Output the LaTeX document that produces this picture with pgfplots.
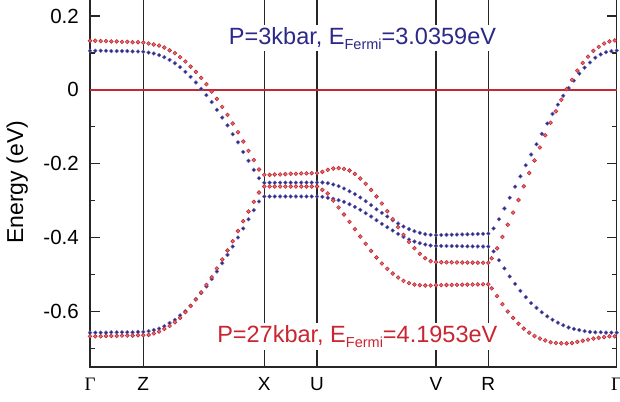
\documentclass[border=0pt]{standalone}
\usepackage{fontspec}
\setmainfont{Liberation Sans}
\newfontfamily\greekserif{Liberation Serif}
\usepackage{pgfplots}
\pgfplotsset{compat=1.18}
\usepackage{pgfplotstable}
\definecolor{bandblue}{RGB}{44,40,138}
\definecolor{bandred}{RGB}{200,38,48}
\definecolor{fermired}{RGB}{196,40,50}

% x: position along the k-path (Gamma-Z-X-U-V-R-Gamma), top/bot: two bands in eV
\pgfplotstableread{
x top bot
0.0 0.106 -0.657
5.3 0.106 -0.657
10.7 0.106 -0.657
16.0 0.106 -0.657
21.3 0.105 -0.656
26.7 0.105 -0.656
32.0 0.105 -0.656
37.3 0.105 -0.656
42.6 0.104 -0.656
48.0 0.104 -0.655
53.3 0.103 -0.655
58.6 0.101 -0.653
63.8 0.0985 -0.650
69.1 0.094 -0.646
74.3 0.0885 -0.6395
79.6 0.081 -0.631
84.9 0.072 -0.6225
90.1 0.0614 -0.6105
95.4 0.0487 -0.599
100.6 0.035 -0.5846
105.9 0.020 -0.567
111.2 0.0027 -0.550
116.4 -0.0143 -0.532
121.7 -0.033 -0.512
126.9 -0.054 -0.4915
132.2 -0.075 -0.469
137.5 -0.096 -0.4466
142.7 -0.120 -0.424
148.0 -0.142 -0.3995
153.2 -0.168 -0.375
158.5 -0.192 -0.350
163.8 -0.2165 -0.3256
169.0 -0.239 -0.302
174.3 -0.2515 -0.2885
179.6 -0.2513 -0.2885
184.8 -0.2512 -0.2885
190.1 -0.2511 -0.2885
195.4 -0.2510 -0.2885
200.7 -0.2510 -0.2885
205.9 -0.2510 -0.2885
211.2 -0.2509 -0.2885
216.5 -0.2508 -0.2885
221.7 -0.2508 -0.2885
227.0 -0.2507 -0.2886
232.4 -0.2507 -0.2895
237.8 -0.2525 -0.2922
243.2 -0.2561 -0.2949
248.6 -0.2606 -0.2985
254.0 -0.2669 -0.3030
259.5 -0.2742 -0.3093
264.9 -0.2823 -0.3166
270.3 -0.2913 -0.3247
275.7 -0.3012 -0.3337
281.1 -0.3120 -0.3427
286.5 -0.3229 -0.3526
291.9 -0.3328 -0.3626
297.3 -0.3427 -0.3716
302.7 -0.3526 -0.3806
308.1 -0.3617 -0.3896
313.5 -0.3698 -0.3978
319.0 -0.3770 -0.4050
324.4 -0.3824 -0.4104
329.8 -0.3869 -0.4149
335.2 -0.3905 -0.4185
340.6 -0.3923 -0.4212
346.0 -0.3932 -0.4221
351.2 -0.3928 -0.4223
356.5 -0.3924 -0.4225
361.7 -0.3920 -0.4227
366.9 -0.3916 -0.4229
372.2 -0.3912 -0.4231
377.4 -0.3908 -0.4233
382.6 -0.3904 -0.4235
387.8 -0.3900 -0.4237
393.1 -0.3895 -0.4239
398.3 -0.3890 -0.4240
403.6 -0.375 -0.437
409.0 -0.350 -0.461
414.4 -0.321 -0.483
419.7 -0.292 -0.505
425.1 -0.262 -0.525
430.4 -0.234 -0.544
435.8 -0.204 -0.561
441.1 -0.175 -0.577
446.5 -0.147 -0.590
451.8 -0.119 -0.602
457.2 -0.091 -0.613
462.5 -0.065 -0.622
467.9 -0.040 -0.630
473.2 -0.016 -0.637
478.6 0.005 -0.643
483.9 0.025 -0.647
489.3 0.044 -0.650
494.6 0.060 -0.653
500.0 0.074 -0.655
505.3 0.087 -0.656
510.7 0.096 -0.656
516.0 0.102 -0.657
521.4 0.105 -0.657
526.7 0.1065 -0.657
}\bluebands

\pgfplotstableread{
x top bot
0.0 0.133 -0.667
5.3 0.133 -0.667
10.7 0.132 -0.667
16.0 0.132 -0.666
21.3 0.131 -0.666
26.7 0.131 -0.666
32.0 0.130 -0.665
37.3 0.130 -0.665
42.6 0.129 -0.665
48.0 0.129 -0.664
53.3 0.128 -0.664
58.6 0.1255 -0.663
63.8 0.1228 -0.659
69.1 0.120 -0.654
74.3 0.1147 -0.647
79.6 0.107 -0.639
84.9 0.0993 -0.629
90.1 0.0885 -0.617
95.4 0.0768 -0.6016
100.6 0.063 -0.5846
105.9 0.0487 -0.567
111.2 0.0325 -0.548
116.4 0.0154 -0.528
121.7 -0.0045 -0.507
126.9 -0.0244 -0.4834
132.2 -0.046 -0.459
137.5 -0.0677 -0.4347
142.7 -0.091 -0.4095
148.0 -0.1145 -0.382
153.2 -0.1397 -0.3554
158.5 -0.165 -0.329
163.8 -0.190 -0.303
169.0 -0.2155 -0.2777
174.3 -0.230 -0.2615
179.6 -0.2300 -0.2615
184.8 -0.2290 -0.2615
190.1 -0.2290 -0.2615
195.4 -0.2280 -0.2615
200.7 -0.2270 -0.2615
205.9 -0.2270 -0.2615
211.2 -0.2260 -0.2615
216.5 -0.2260 -0.2615
221.7 -0.2255 -0.2615
227.0 -0.2254 -0.2615
232.4 -0.2218 -0.2706
237.8 -0.2164 -0.2805
243.2 -0.2128 -0.2994
248.6 -0.2119 -0.3184
254.0 -0.2137 -0.3373
259.5 -0.2182 -0.3572
264.9 -0.2273 -0.3770
270.3 -0.2399 -0.3968
275.7 -0.2543 -0.4167
281.1 -0.2706 -0.4356
286.5 -0.2886 -0.4537
291.9 -0.3075 -0.4699
297.3 -0.3283 -0.4844
302.7 -0.3499 -0.4970
308.1 -0.3716 -0.5078
313.5 -0.3924 -0.5168
319.0 -0.4114 -0.5231
324.4 -0.4285 -0.5268
329.8 -0.4438 -0.5286
335.2 -0.4555 -0.5295
340.6 -0.4636 -0.5295
346.0 -0.4663 -0.5286
351.2 -0.4665 -0.5284
356.5 -0.4667 -0.5281
361.7 -0.4668 -0.5279
366.9 -0.4670 -0.5276
372.2 -0.4672 -0.5273
377.4 -0.4673 -0.5270
382.6 -0.4675 -0.5268
387.8 -0.4677 -0.5265
393.1 -0.4678 -0.5262
398.3 -0.4680 -0.5260
401.7 -0.456 -0.537
407.1 -0.429 -0.558
412.4 -0.398 -0.580
417.8 -0.365 -0.600
423.1 -0.332 -0.617
428.5 -0.298 -0.633
433.8 -0.261 -0.646
439.2 -0.225 -0.657
444.5 -0.191 -0.666
449.9 -0.156 -0.673
455.2 -0.123 -0.678
460.6 -0.089 -0.683
465.9 -0.058 -0.685
471.3 -0.027 -0.6857
476.6 0.002 -0.686
482.0 0.027 -0.685
487.3 0.052 -0.682
492.7 0.073 -0.679
498.0 0.090 -0.676
503.4 0.1055 -0.673
508.7 0.1164 -0.671
514.1 0.1255 -0.669
519.4 0.131 -0.667
524.8 0.1337 -0.667
}\redbands

\begin{document}
\begin{tikzpicture}
\begin{axis}[name=ax, scale only axis, width=526.7pt, height=369.5pt,
  xmin=0, xmax=526.7, ymin=-0.75, ymax=0.25,
  xtick={0,53.3,174.3,227,346,398.3,526.7},
  xticklabels={{\greekserif Γ},Z,X,U,V,R,{\greekserif Γ}},
  xmajorgrids, major grid style={black!85, line width=1.3pt},
  x tick style={draw=none},
  ytick={-0.6,-0.4,-0.2,0,0.2}, yticklabels={-0.6,-0.4,-0.2,0,0.2},
  minor ytick={-0.7,-0.5,-0.3,-0.1,0.1},
  tick align=inside,
  major tick length=10pt, minor tick length=5pt,
  y tick style={black!85, line width=1.3pt},
  axis line style={black!85, line width=1.4pt},
  yticklabel style={font=\fontsize{20.5}{20.5}\selectfont, anchor=east, inner sep=0pt, xshift=-11pt},
  xticklabel style={font=\fontsize{19}{19}\selectfont, anchor=base, inner sep=0pt, yshift=-23pt},
  ylabel={Energy (eV)},
  ylabel style={font=\fontsize{23}{23}\selectfont, at={(axis description cs:-0.1271,0.5)}, anchor=base},
  clip=false]

\addplot[draw=fermired, line width=1.6pt, mark=none] coordinates {(0,0) (526.7,0)};

\addplot[only marks, mark=*, mark size=1.9pt, mark options={fill=bandblue, draw=bandblue!70!white, line width=0.4pt}] table[x=x, y=top] {\bluebands};
\addplot[only marks, mark=*, mark size=1.9pt, mark options={fill=bandblue, draw=bandblue!70!white, line width=0.4pt}] table[x=x, y=bot] {\bluebands};
\addplot[only marks, mark=*, mark size=1.9pt, mark options={fill=bandred!65!white, draw=bandred, line width=0.6pt}] table[x=x, y=top] {\redbands};
\addplot[only marks, mark=*, mark size=1.9pt, mark options={fill=bandred!65!white, draw=bandred, line width=0.6pt}] table[x=x, y=bot] {\redbands};

\node[text=bandblue, fill=white, inner sep=2pt, anchor=base, font=\fontsize{23.5}{23.5}\selectfont]
  at (axis cs:272.5,0.1237) {P=3kbar, E\raisebox{-5pt}{\fontsize{14.5}{14.5}\selectfont Fermi}=3.0359eV};
\node[text=bandred, fill=white, inner sep=2pt, anchor=base, font=\fontsize{23.5}{23.5}\selectfont]
  at (axis cs:267.3,-0.6836) {P=27kbar, E\raisebox{-5pt}{\fontsize{14.5}{14.5}\selectfont Fermi}=4.1953eV};
\end{axis}
\pgfresetboundingbox
\path[use as bounding box] ([shift={(-90pt,-34pt)}]ax.south west) rectangle ++(620pt,401pt);
\end{tikzpicture}
\end{document}
